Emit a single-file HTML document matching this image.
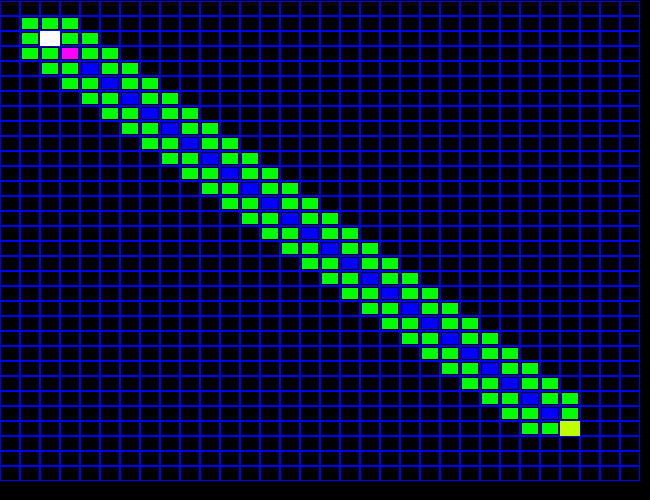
<!DOCTYPE html>
<html>
<head>
<meta charset="utf-8">
<title>Alignment matrix</title>
<style>
html,body{margin:0;padding:0;background:#000;width:650px;height:500px;overflow:hidden}
svg{display:block}
</style>
</head>
<body>
<svg id="chart" width="650" height="500" viewBox="0 0 650 500" shape-rendering="crispEdges">
<defs><clipPath id="plot-clip"><rect x="0" y="1" width="640" height="480"></rect></clipPath></defs>
<rect x="0" y="0" width="650" height="500" fill="#000"></rect>
<g id="grid" clip-path="url(#plot-clip)"></g>
<g id="cells" clip-path="url(#plot-clip)"></g>
</svg>
<script>
var columnCount = 32;
var rowCount = 32;
var rowStartColumns = [1,1,1,2,3,4,5,6,7,8,9,10,11,12,13,14,15,16,17,18,19,20,21,22,23,24,25,26];
var rowValues = [
  [1,1,1],
  [1,2,1,1],
  [1,1,3,1,1],
  [1,1,0,1,1],[1,1,0,1,1],[1,1,0,1,1],[1,1,0,1,1],[1,1,0,1,1],
  [1,1,0,1,1],[1,1,0,1,1],[1,1,0,1,1],[1,1,0,1,1],[1,1,0,1,1],
  [1,1,0,1,1],[1,1,0,1,1],[1,1,0,1,1],[1,1,0,1,1],[1,1,0,1,1],
  [1,1,0,1,1],[1,1,0,1,1],[1,1,0,1,1],[1,1,0,1,1],[1,1,0,1,1],
  [1,1,0,1,1],[1,1,0,1,1],[1,1,0,1,1],
  [1,1,0,1],
  [1,1,4]
];
var valueColors = ['#0000ff','#00ff00','#ffffff','#ff00ff','#c0ff00'];
var valueNames = ['blue','green','white','magenta','yellow'];

function xScale(col){ return col * 20; }
function yScale(row){ return row * 15 + 1; }

var NS = 'http://www.w3.org/2000/svg';
var grid = document.getElementById('grid');
var cells = document.getElementById('cells');

for (var c = 0; c <= columnCount; c++) {
  var v = document.createElementNS(NS, 'rect');
  v.setAttribute('x', xScale(c) - 1);
  v.setAttribute('y', 0);
  v.setAttribute('width', 2);
  v.setAttribute('height', yScale(rowCount) + 1);
  v.setAttribute('fill', '#0000ff');
  
  
  grid.appendChild(v);
}
for (var r = 0; r <= rowCount; r++) {
  var h = document.createElementNS(NS, 'rect');
  h.setAttribute('x', 0);
  h.setAttribute('y', yScale(r) - 1);
  h.setAttribute('width', xScale(columnCount) + 1);
  h.setAttribute('height', 2);
  h.setAttribute('fill', '#0000ff');
  
  
  grid.appendChild(h);
}

rowValues.forEach(function (values, i) {
  var row = i + 1;
  values.forEach(function (value, j) {
    var col = rowStartColumns[i] + j;
    var x = xScale(col), y = yScale(row);
    var rect = document.createElementNS(NS, 'rect');
    var full = value === 2 || value === 4;
    rect.setAttribute('x', x + (full ? 0 : 2));
    rect.setAttribute('y', y + (full ? 0 : 2));
    rect.setAttribute('width', full ? 20 : 16);
    rect.setAttribute('height', full ? 15 : 11);
    rect.setAttribute('fill', valueColors[value]);
    if (!full) {
      var border = document.createElementNS(NS, 'rect');
      border.setAttribute('x', x + 1);
      border.setAttribute('y', y + 1);
      border.setAttribute('width', 18);
      border.setAttribute('height', 13);
      border.setAttribute('fill', '#000');
      
      
      cells.appendChild(border);
    }
    
    
    cells.appendChild(rect);
  });
});
</script>
</body>
</html>
